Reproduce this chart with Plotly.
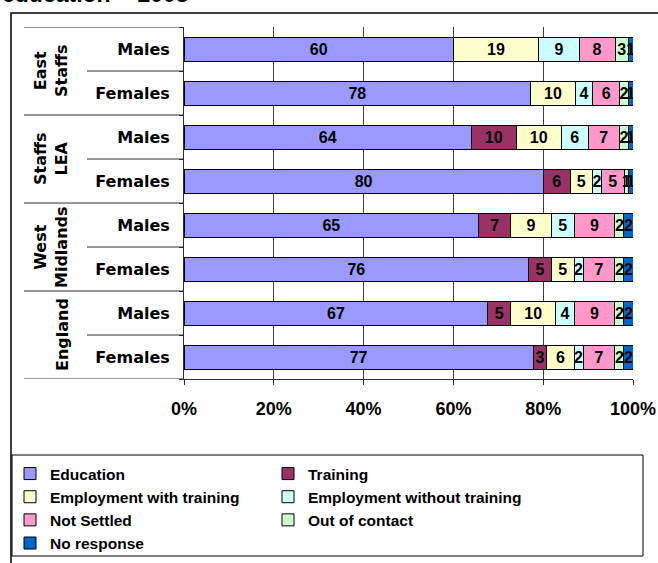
import plotly.graph_objects as go

regions = ["East Staffs", "Staffs LEA", "West Midlands", "England"]
region_labels = ["East<br>Staffs", "Staffs<br>LEA", "West<br>Midlands", "England"]
genders = ["Males", "Females"]

education = [60, 78, 64, 80, 65, 76, 67, 77]
training = [0, 0, 10, 6, 7, 5, 5, 3]
emp_with_training = [19, 10, 10, 5, 9, 5, 10, 6]
emp_without_training = [9, 4, 6, 2, 5, 2, 4, 2]
not_settled = [8, 6, 7, 5, 9, 7, 9, 7]
out_of_contact = [3, 2, 2, 1, 2, 2, 2, 2]
no_response = [1, 1, 1, 1, 2, 2, 2, 2]

series_names = ["Education", "Training", "Employment with training",
                "Employment without training", "Not Settled", "Out of contact",
                "No response"]
series_values = [education, training, emp_with_training, emp_without_training,
                 not_settled, out_of_contact, no_response]
series_colors = ["#9999FF", "#993366", "#FFFFCC", "#CCFFFF", "#FF99CC",
                 "#CCFFCC", "#0066CC"]

x_ticks = [0, 20, 40, 60, 80, 100]
x_tick_labels = ["0%", "20%", "40%", "60%", "80%", "100%"]

cats = [f"{r} - {g}" for r in regions for g in genders]
cat_text = [g for r in regions for g in genders]

# layout geometry (pixels)
W, H = 658, 563
ML, MR, MT, MB = 184, 25, 27, 184
PW = W - ML - MR
PH = H - MT - MB


def px_x(p):
    return (p - ML) / PW


def px_y(p):
    return (H - MB - p) / PH


fig = go.Figure()
for name, vals, col in zip(series_names, series_values, series_colors):
    fig.add_trace(go.Bar(
        y=cats, x=vals, name=name, orientation="h",
        marker=dict(color=col, line=dict(color="#000000", width=1)),
        text=[str(v) if v else "" for v in vals],
        textposition="inside", insidetextanchor="middle", textangle=0,
        insidetextfont=dict(family="Liberation Sans, Arial", size=16,
                            color="#000000", weight="bold"),
        hoverinfo="skip",
    ))

shapes = []
# outer chart frame
shapes.append(dict(type="rect", xref="paper", yref="paper",
                   x0=px_x(11), x1=px_x(662), y0=px_y(575), y1=px_y(13),
                   line=dict(color="#000000", width=1.5), layer="below"))
# legend frame
shapes.append(dict(type="rect", xref="paper", yref="paper",
                   x0=px_x(12), x1=px_x(643), y0=px_y(556), y1=px_y(455),
                   line=dict(color="#000000", width=1)))
# category separators in the label area
n = len(cats)
for i in range(n + 1):
    b = i - 0.5
    x0 = px_x(24) if i % 2 == 0 else px_x(87)
    shapes.append(dict(type="line", xref="paper", yref="y",
                       x0=x0, x1=0, y0=b, y1=b,
                       line=dict(color="#303030", width=1)))

annotations = []
for k, lab in enumerate(region_labels):
    xc = px_x(62) if "<br>" not in lab else px_x(51)
    annotations.append(dict(
        xref="paper", yref="y", x=xc, y=2 * k + 0.5, text=lab,
        textangle=-90, showarrow=False, xanchor="center", yanchor="middle",
        font=dict(family="DejaVu Sans", size=16, color="#000000", weight="bold"),
    ))
annotations.append(dict(
    xref="paper", yref="paper", x=px_x(0), y=px_y(9), text="education  - 2003",
    showarrow=False, xanchor="left", yanchor="bottom",
    font=dict(family="Liberation Sans, Arial", size=23, color="#000000", weight="bold"),
))

fig.update_layout(
    width=W, height=H,
    margin=dict(l=ML, r=MR, t=MT, b=MB, autoexpand=False),
    barmode="stack", barnorm="percent", bargap=0.4545,
    paper_bgcolor="#FFFFFF", plot_bgcolor="#FFFFFF",
    showlegend=True,
    uniformtext=dict(minsize=16, mode="show"),
    legend=dict(
        orientation="h", x=px_x(10), y=px_y(457), xanchor="left", yanchor="top",
        entrywidth=213, entrywidthmode="pixels", itemwidth=30,
        font=dict(family="Liberation Sans, Arial", size=15.5, color="#000000", weight="bold"),
        borderwidth=0, bgcolor="rgba(0,0,0,0)", traceorder="normal",
    ),
    shapes=shapes, annotations=annotations,
)

fig.update_xaxes(
    range=[0, 100], tickmode="array", tickvals=x_ticks, ticktext=x_tick_labels,
    showgrid=True, gridcolor="#404040", gridwidth=1,
    showline=True, linecolor="#303030", linewidth=1,
    ticks="outside", ticklen=5, tickcolor="#303030",
    zeroline=False, ticklabelstandoff=8,
    tickfont=dict(family="Liberation Sans, Arial", size=18, color="#000000", weight="bold"),
)
fig.update_yaxes(
    type="category", range=[n - 0.5, -0.5], tickvals=cats, ticktext=cat_text,
    showgrid=False, showline=True, linecolor="#303030", linewidth=1,
    ticks="outside", ticklen=4, tickcolor="#303030", tickson="boundaries",
    ticklabelstandoff=10,
    tickfont=dict(family="DejaVu Sans", size=16, color="#000000", weight="bold"),
)

fig.write_html("out.html", config={"displayModeBar": False},
               post_script="document.body.style.margin='0';")
